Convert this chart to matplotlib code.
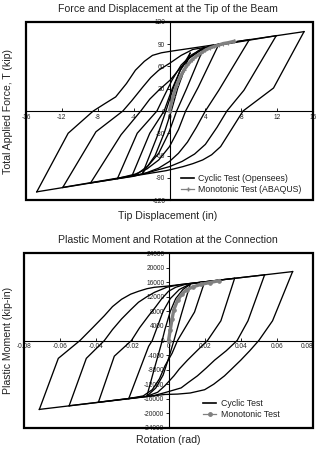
import matplotlib
matplotlib.use("Agg")
import matplotlib.pyplot as plt
from matplotlib.patches import Rectangle
from matplotlib.lines import Line2D

plt.rcParams['font.family'] = ['Liberation Sans', 'DejaVu Sans']

# ---------------- TOP PLOT DATA: tip force (kip) vs tip displacement (in) ----------------
top_up_a = [(-14.8, -109), (-11.3, -30), (-8.5, 0), (-7.2, 10), (-6.0, 19), (-4.8, 37), (-3.8, 55),
            (-2.8, 67), (-1.9, 75), (-0.9, 78.5), (0.1, 80.5), (15.0, 107)]
top_down_a = [(15.0, 107), (11.6, 31), (8.2, 0), (6.9, -25), (5.7, -48), (4.7, -59), (3.7, -66),
              (2.6, -71), (1.5, -75), (0.5, -78), (-0.4, -80.5), (-14.8, -109)]
top_up_b = [(-11.9, -103), (-8.2, -28), (-5.2, 0), (-4.2, 14), (-3.0, 32), (-2.1, 45), (-1.2, 55),
            (0.1, 65), (1.3, 75), (2.6, 83), (11.9, 101.5)]
top_down_b = [(11.9, 101.5), (8.3, 28), (6.4, 0), (5.3, -22), (4.0, -45), (2.8, -58), (1.4, -68),
              (0.0, -75), (-1.5, -80), (-2.6, -84), (-11.9, -103)]
top_up_c = [(-8.8, -97), (-5.4, -32), (-3.2, 0), (-2.2, 16), (-1.2, 28), (0.1, 42), (1.2, 58),
            (2.3, 72), (3.4, 81), (4.5, 88), (8.9, 96.2)]
top_down_c = [(8.9, 96.2), (5.5, 28), (4.0, 0), (3.0, -22), (2.0, -42), (1.0, -57), (0.0, -68),
              (-1.2, -77), (-2.5, -83), (-4.0, -88), (-8.8, -97)]
top_up_d = [(-5.8, -91), (-3.6, -30), (-1.4, 0), (-0.6, 20), (0.3, 42), (1.3, 62), (2.5, 76),
            (3.7, 84), (5.5, 90)]
top_down_d = [(5.5, 90), (3.2, 32), (1.8, 0), (1.0, -25), (0.0, -48), (-1.2, -66), (-2.5, -78),
              (-3.8, -85), (-5.8, -91)]
top_up_e = [(-4.2, -88), (-2.2, -30), (-0.6, 0), (0.3, 30), (1.2, 55), (2.2, 72), (3.3, 82), (3.8, 85)]
top_down_e = [(3.8, 85), (1.9, 30), (0.8, 0), (-0.1, -30), (-1.2, -57), (-2.4, -74), (-3.5, -84), (-4.2, -88)]
top_up_f = [(-3.0, -84), (-1.4, -35), (-0.4, 0), (0.4, 30), (1.2, 55), (2.3, 78)]
top_down_f = [(2.3, 78), (0.9, 30), (0.2, 0), (-0.6, -30), (-1.6, -60), (-3.0, -84)]
top_mono = [(0.0, 0), (0.4, 20), (0.8, 35), (1.2, 46), (1.6, 55), (2.0, 62), (2.5, 69), (3.0, 74),
            (3.5, 78), (4.0, 82), (4.5, 85), (5.0, 87), (5.5, 89), (6.0, 91), (6.5, 92), (7.2, 94)]
top_xticks = [-16, -12, -8, -4, 0, 4, 8, 12, 16]
top_yticks = [-120, -90, -60, -30, 0, 30, 60, 90, 120]

# ---------------- BOTTOM PLOT DATA: plastic moment (kip-in) vs rotation (rad) ----------------
bot_up_a = [(-0.0715, -18900), (-0.061, -4900), (-0.049, 0), (-0.042, 3500), (-0.0355, 6800),
            (-0.031, 9300), (-0.026, 11300), (-0.021, 12700), (-0.0166, 13500), (-0.012, 14200),
            (-0.0078, 14600), (-0.001, 14900), (0.0687, 18900)]
bot_down_a = [(0.0687, 18900), (0.0576, 5400), (0.050, 0), (0.045, -2800), (0.040, -5400),
              (0.035, -7800), (0.031, -9700), (0.025, -12000), (0.020, -13500), (0.012, -14400),
              (0.005, -14700), (-0.002, -14800), (-0.0715, -18900)]
bot_up_b = [(-0.055, -17900), (-0.0455, -4900), (-0.0355, 0), (-0.031, 3000), (-0.026, 5900),
            (-0.021, 8400), (-0.0166, 10500), (-0.012, 12000), (-0.0078, 13200), (-0.001, 14600),
            (0.006, 15300), (0.0532, 18000)]
bot_down_b = [(0.0532, 18000), (0.044, 5400), (0.038, 0), (0.032, -2800), (0.0255, -5400),
              (0.021, -7500), (0.016, -9700), (0.011, -11500), (0.007, -13000), (-0.002, -14300),
              (-0.008, -15100), (-0.055, -17900)]
bot_up_c = [(-0.0388, -16930), (-0.030, -4300), (-0.0205, 0), (-0.016, 3500), (-0.011, 6800),
            (-0.007, 9300), (-0.004, 11300), (0.0, 13500), (0.004, 14600), (0.010, 15500), (0.0366, 17050)]
bot_down_c = [(0.0366, 17050), (0.029, 5400), (0.0216, 0), (0.016, -2700), (0.0105, -5400),
              (0.006, -7800), (0.003, -9700), (-0.002, -12400), (-0.006, -14200), (-0.012, -15300),
              (-0.0388, -16930)]
bot_up_d = [(-0.022, -15920), (-0.016, -8100), (-0.011, -1600), (-0.009, 0), (-0.006, 4000),
            (-0.003, 8000), (0.001, 11500), (0.006, 14000), (0.012, 15500), (0.020, 16100)]
bot_down_d = [(0.020, 16100), (0.0144, 7800), (0.005, 0), (0.002, -3500), (-0.002, -7000),
              (-0.005, -10500), (-0.009, -13500), (-0.014, -15200), (-0.022, -15920)]
bot_up_e = [(-0.012, -15300), (-0.008, -8000), (-0.004, -1000), (-0.002, 3000), (0.001, 8000),
            (0.004, 11500), (0.008, 14000), (0.012, 15400)]
bot_down_e = [(0.012, 15400), (0.007, 7000), (0.003, 0), (0.0, -5000), (-0.003, -9500),
              (-0.007, -13000), (-0.012, -15300)]
bot_mono = [(0.0, 0), (0.001, 3000), (0.002, 6000), (0.003, 8500), (0.005, 11000), (0.0075, 12800),
            (0.010, 13900), (0.0135, 14700), (0.018, 15400), (0.023, 15900), (0.028, 16400)]
bot_xticks = [-0.08, -0.06, -0.04, -0.02, 0, 0.02, 0.04, 0.06, 0.08]
bot_yticks = [-24000, -20000, -16000, -12000, -8000, -4000, 0, 4000, 8000, 12000, 16000, 20000, 24000]

top_branches = [top_up_a, top_down_a, top_up_b, top_down_b, top_up_c, top_down_c,
                top_up_d, top_down_d, top_up_e, top_down_e, top_up_f, top_down_f]
bot_branches = [bot_up_a, bot_down_a, bot_up_b, bot_down_b, bot_up_c, bot_down_c,
                bot_up_d, bot_down_d, bot_up_e, bot_down_e]

W, H = 316, 454
fig = plt.figure(figsize=(W / 100, H / 100), dpi=100)
fig.patch.set_facecolor('white')

TICK_FS = 4.7
LAB_FS = 7.6
LEG_FS = 6.3
TXT_C = '#222222'


def style_axes(ax, xlim, ylim, xticks, yticks, xfmt):
    ax.set_xlim(*xlim)
    ax.set_ylim(*ylim)
    for s in ['top', 'right']:
        ax.spines[s].set_visible(False)
    ax.spines['left'].set_position(('data', 0))
    ax.spines['bottom'].set_position(('data', 0))
    ax.spines['left'].set_linewidth(0.8)
    ax.spines['bottom'].set_linewidth(0.8)
    ax.set_xticks(xticks)
    ax.set_xticklabels([xfmt(v) for v in xticks])
    ax.set_yticks(yticks)
    ax.set_yticklabels([str(v) for v in yticks])
    ax.tick_params(axis='x', direction='in', length=2.5, width=0.6, pad=2,
                   labelsize=TICK_FS, labelcolor=TXT_C)
    ax.tick_params(axis='y', direction='out', length=2, width=0.6, pad=1,
                   labelsize=TICK_FS, labelcolor=TXT_C)
    ax.add_patch(Rectangle((0, 0), 1, 1, transform=ax.transAxes, fill=False,
                           lw=1.6, ec='black', clip_on=False, zorder=6))


def draw(ax, branches, mono, marker):
    for br in branches:
        xs = [p[0] for p in br]
        ys = [p[1] for p in br]
        ax.plot(xs, ys, color='black', lw=0.95, solid_joinstyle='round', zorder=3)
    mx = [p[0] for p in mono]
    my = [p[1] for p in mono]
    ax.plot(mx, my, color='#808080', lw=2.4, marker=marker, ms=2.5, mew=0.8,
            mfc='#808080', mec='#808080', zorder=4)


# ---- top axes ----
ax1 = fig.add_axes([26 / W, 1 - 200 / H, 287 / W, 178 / H])
draw(ax1, top_branches, top_mono, '+')
style_axes(ax1, (-16, 16), (-120, 120), top_xticks, top_yticks, lambda v: str(v))
h1 = [Line2D([], [], color='black', lw=1.2),
      Line2D([], [], color='#808080', lw=0.9, marker='+', ms=3)]
ax1.legend(h1, ['Cyclic Test (Opensees)', 'Monotonic Test (ABAQUS)'], loc='lower left',
           bbox_to_anchor=(0.54, 0.035), frameon=False, fontsize=LEG_FS, handlelength=1.5,
           handletextpad=0.5, labelspacing=0.25, borderpad=0, borderaxespad=0,
           labelcolor=TXT_C)
fig.text(168 / W, 1 - 9 / H, 'Force and Displacement at the Tip of the Beam',
         ha='center', va='center', fontsize=LAB_FS, color=TXT_C)
fig.text(168 / W, 1 - 216 / H, 'Tip Displacement (in)', ha='center', va='center',
         fontsize=LAB_FS, color=TXT_C)
fig.text(8 / W, 1 - 111 / H, 'Total Applied Force, T (kip)', ha='center', va='center',
         rotation=90, fontsize=LAB_FS, color=TXT_C)

# ---- bottom axes ----
ax2 = fig.add_axes([24 / W, 1 - 428 / H, 289 / W, 175 / H])
draw(ax2, bot_branches, bot_mono, 'o')
style_axes(ax2, (-0.08, 0.08), (-24000, 24000), bot_xticks, bot_yticks,
           lambda v: '0' if v == 0 else f'{v:.2f}')
xl = ax2.get_xticklabels()
xl[-1].set_horizontalalignment('right')
h2 = [Line2D([], [], color='black', lw=1.2),
      Line2D([], [], color='#808080', lw=0.9, marker='o', ms=2.5)]
ax2.legend(h2, ['Cyclic Test', 'Monotonic Test'], loc='lower left',
           bbox_to_anchor=(0.62, 0.05), frameon=False, fontsize=LEG_FS, handlelength=1.5,
           handletextpad=0.5, labelspacing=0.25, borderpad=0, borderaxespad=0,
           labelcolor=TXT_C)
fig.text(168 / W, 1 - 240 / H, 'Plastic Moment and Rotation at the Connection',
         ha='center', va='center', fontsize=LAB_FS, color=TXT_C)
fig.text(168 / W, 1 - 440 / H, 'Rotation (rad)', ha='center', va='center',
         fontsize=LAB_FS, color=TXT_C)
fig.text(8 / W, 1 - 340 / H, 'Plastic Moment (kip-in)', ha='center', va='center',
         rotation=90, fontsize=LAB_FS, color=TXT_C)

fig.savefig('out.png', dpi=100, facecolor='white')
